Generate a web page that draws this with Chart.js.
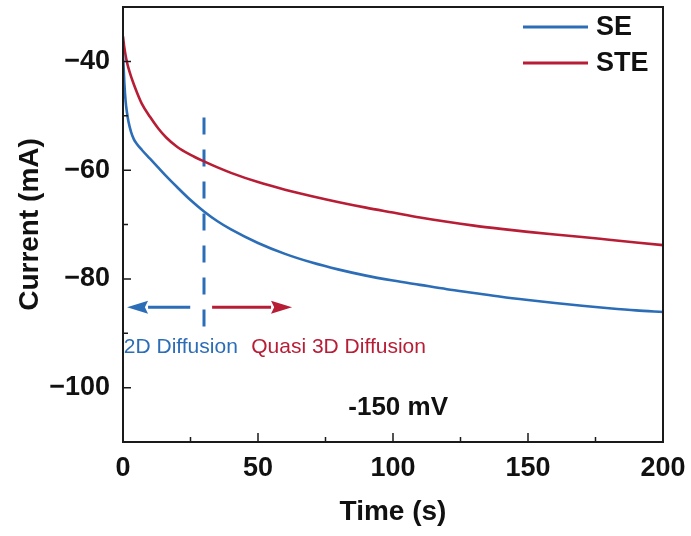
<!DOCTYPE html>
<html>
<head>
<meta charset="utf-8">
<script src="https://cdn.jsdelivr.net/npm/chart.js@4.4.1/dist/chart.umd.min.js"></script>
<style>
  body { margin: 0; background: #fff; }
  canvas { display: block; }
</style>
</head>
<body>
<canvas id="grafica" width="691" height="536"></canvas>
<script>
// tiempo (s) y corriente (mA) de las dos celdas
const tiempo = [0, 0.5, 1, 1.5, 2, 3, 4, 5, 7, 10, 13, 16, 20, 25, 30, 35, 40, 50, 60, 70,
                80, 90, 100, 110, 120, 130, 140, 150, 160, 170, 180, 190, 200];
const corrienteSE = [-38.5, -44, -47.5, -49.5, -51.0, -53.0, -54.3, -55.1, -56.3, -57.9, -59.5, -61.1, -63.1,
                     -65.5, -67.6, -69.4, -70.9, -73.4, -75.4, -77.0, -78.3, -79.4, -80.3, -81.1, -81.9,
                     -82.6, -83.3, -83.9, -84.45, -84.95, -85.4, -85.8, -86.1];
const corrienteSTE = [-35.4, -37.5, -39.0, -40.2, -41.2, -42.8, -44.2, -45.5, -47.8, -50.2, -52.3, -54.0, -55.7,
                      -57.2, -58.4, -59.5, -60.5, -62.2, -63.6, -64.8, -65.9, -66.9, -67.8, -68.7, -69.5,
                      -70.2, -70.8, -71.35, -71.85, -72.3, -72.8, -73.3, -73.8];
const series = ['SE', 'STE'];

// linea divisoria entre regimenes de difusion
const divisorX = [30, 30];
const divisorY = [-50.3, -89];

// flechas: [cola, punta] en unidades de datos
const flechaAzulX = [24.9, 1.5];
const flechaRojaX = [33, 62.6];
const flechaY = -85.2;

const notas = ['2D Diffusion', 'Quasi 3D Diffusion', '-150 mV'];
const notasX = [0.3, 47.5, 101.9];
const notasY = [-92.6, -92.6, -103.8];

const ticksX = [0, 50, 100, 150, 200];
const ticksXMenores = [25, 75, 125, 175];
const ticksY = [-100, -80, -60, -40];
const ticksYMenores = [-90, -70, -50];

const AZUL = '#2c6db7';
const ROJO = '#b81d36';
const FUENTE = '"Liberation Sans", Arial, sans-serif';

function etiquetaY(v) {
    return v < 0 ? '\u2212' + Math.abs(v) : String(v);
}

// marco cerrado y marcas hacia dentro
const marco = {
    id: 'marco',
    afterDatasetsDraw(chart) {
        const { ctx, chartArea: a, scales: { x, y } } = chart;
        ctx.save();
        ctx.strokeStyle = '#1a1a1a';
        ctx.lineWidth = 1.5;
        ctx.beginPath();
        ticksX.forEach(v => { const p = x.getPixelForValue(v); ctx.moveTo(p, a.bottom); ctx.lineTo(p, a.bottom - 9); });
        ticksXMenores.forEach(v => { const p = x.getPixelForValue(v); ctx.moveTo(p, a.bottom); ctx.lineTo(p, a.bottom - 5); });
        ticksY.forEach(v => { const p = y.getPixelForValue(v); ctx.moveTo(a.left, p); ctx.lineTo(a.left + 8, p); });
        ticksYMenores.forEach(v => { const p = y.getPixelForValue(v); ctx.moveTo(a.left, p); ctx.lineTo(a.left + 5, p); });
        ctx.stroke();
        ctx.lineWidth = 2;
        ctx.strokeRect(a.left, a.top, a.right - a.left, a.bottom - a.top);
        ctx.restore();
    }
};

function flecha(ctx, x0, x1, yp, color) {
    const dir = Math.sign(x1 - x0);
    const largo = 21, medio = 6.5;
    ctx.strokeStyle = color;
    ctx.fillStyle = color;
    ctx.lineWidth = 3;
    ctx.beginPath();
    ctx.moveTo(x0, yp);
    ctx.lineTo(x1 - dir * largo, yp);
    ctx.stroke();
    ctx.beginPath();
    ctx.moveTo(x1, yp);
    ctx.lineTo(x1 - dir * largo, yp - medio);
    ctx.lineTo(x1 - dir * largo * 0.85, yp);
    ctx.lineTo(x1 - dir * largo, yp + medio);
    ctx.closePath();
    ctx.fill();
}

// flechas, textos y leyenda
const anotaciones = {
    id: 'anotaciones',
    afterDatasetsDraw(chart) {
        const { ctx, chartArea: a, scales: { x, y } } = chart;
        ctx.save();
        const yp = y.getPixelForValue(flechaY);
        flecha(ctx, x.getPixelForValue(flechaAzulX[0]), x.getPixelForValue(flechaAzulX[1]), yp, AZUL);
        flecha(ctx, x.getPixelForValue(flechaRojaX[0]), x.getPixelForValue(flechaRojaX[1]), yp, ROJO);

        ctx.textBaseline = 'middle';
        ctx.font = '21px ' + FUENTE;
        ctx.textAlign = 'left';
        ctx.fillStyle = AZUL;
        ctx.fillText(notas[0], x.getPixelForValue(notasX[0]), y.getPixelForValue(notasY[0]));
        ctx.fillStyle = ROJO;
        ctx.fillText(notas[1], x.getPixelForValue(notasX[1]), y.getPixelForValue(notasY[1]));
        ctx.font = 'bold 26px ' + FUENTE;
        ctx.textAlign = 'center';
        ctx.fillStyle = '#111';
        ctx.fillText(notas[2], x.getPixelForValue(notasX[2]), y.getPixelForValue(notasY[2]));

        // leyenda
        ctx.textAlign = 'left';
        ctx.font = 'bold 27px ' + FUENTE;
        chart.data.datasets.slice(0, 2).forEach((ds, i) => {
            const ly = a.top + 20 + i * 36;
            ctx.strokeStyle = ds.borderColor;
            ctx.lineWidth = 3;
            ctx.beginPath();
            ctx.moveTo(a.right - 140, ly);
            ctx.lineTo(a.right - 75, ly);
            ctx.stroke();
            ctx.fillStyle = '#111';
            ctx.fillText(ds.label, a.right - 67, ly + 1);
        });
        ctx.restore();
    }
};

const ctx = document.getElementById('grafica').getContext('2d');
new Chart(ctx, {
    type: 'line',
    data: {
        datasets: [
            {
                label: series[0],
                data: tiempo.map((t, i) => ({ x: t, y: corrienteSE[i] })),
                borderColor: AZUL,
                borderWidth: 2.6,
                pointRadius: 0,
                cubicInterpolationMode: 'monotone',
                fill: false
            },
            {
                label: series[1],
                data: tiempo.map((t, i) => ({ x: t, y: corrienteSTE[i] })),
                borderColor: ROJO,
                borderWidth: 2.6,
                pointRadius: 0,
                cubicInterpolationMode: 'monotone',
                fill: false
            },
            {
                label: 'divisor',
                data: divisorX.map((t, i) => ({ x: t, y: divisorY[i] })),
                borderColor: AZUL,
                borderWidth: 3,
                borderDash: [17, 15],
                pointRadius: 0,
                fill: false
            }
        ]
    },
    options: {
        responsive: false,
        animation: false,
        layout: { autoPadding: false, padding: { top: 7, right: 28, left: 0, bottom: 0 } },
        plugins: {
            legend: { display: false },
            tooltip: { enabled: false }
        },
        scales: {
            x: {
                type: 'linear',
                min: 0,
                max: 200,
                afterBuildTicks: s => { s.ticks = ticksX.map(v => ({ value: v })); },
                afterFit: s => { s.height = 94; s.paddingLeft = 0; s.paddingRight = 0; },
                grid: { display: false, drawTicks: false },
                border: { display: false },
                ticks: {
                    padding: 10,
                    color: '#111',
                    font: { family: FUENTE, size: 27, weight: 'bold' }
                },
                title: {
                    display: true,
                    text: 'Time (s)',
                    color: '#111',
                    padding: { top: 0, bottom: 7 },
                    font: { family: FUENTE, size: 28, weight: 'bold' }
                }
            },
            y: {
                min: -110,
                max: -30,
                afterBuildTicks: s => { s.ticks = ticksY.map(v => ({ value: v })); },
                afterFit: s => { s.width = 123; s.paddingTop = 0; s.paddingBottom = 0; },
                grid: { display: false, drawTicks: false },
                border: { display: false },
                ticks: {
                    padding: 13,
                    color: '#111',
                    callback: etiquetaY,
                    font: { family: FUENTE, size: 27, weight: 'bold' }
                },
                title: {
                    display: true,
                    text: 'Current (mA)',
                    color: '#111',
                    padding: { top: 13, bottom: 0 },
                    font: { family: FUENTE, size: 28, weight: 'bold' }
                }
            }
        }
    },
    plugins: [marco, anotaciones]
});
</script>
</body>
</html>
